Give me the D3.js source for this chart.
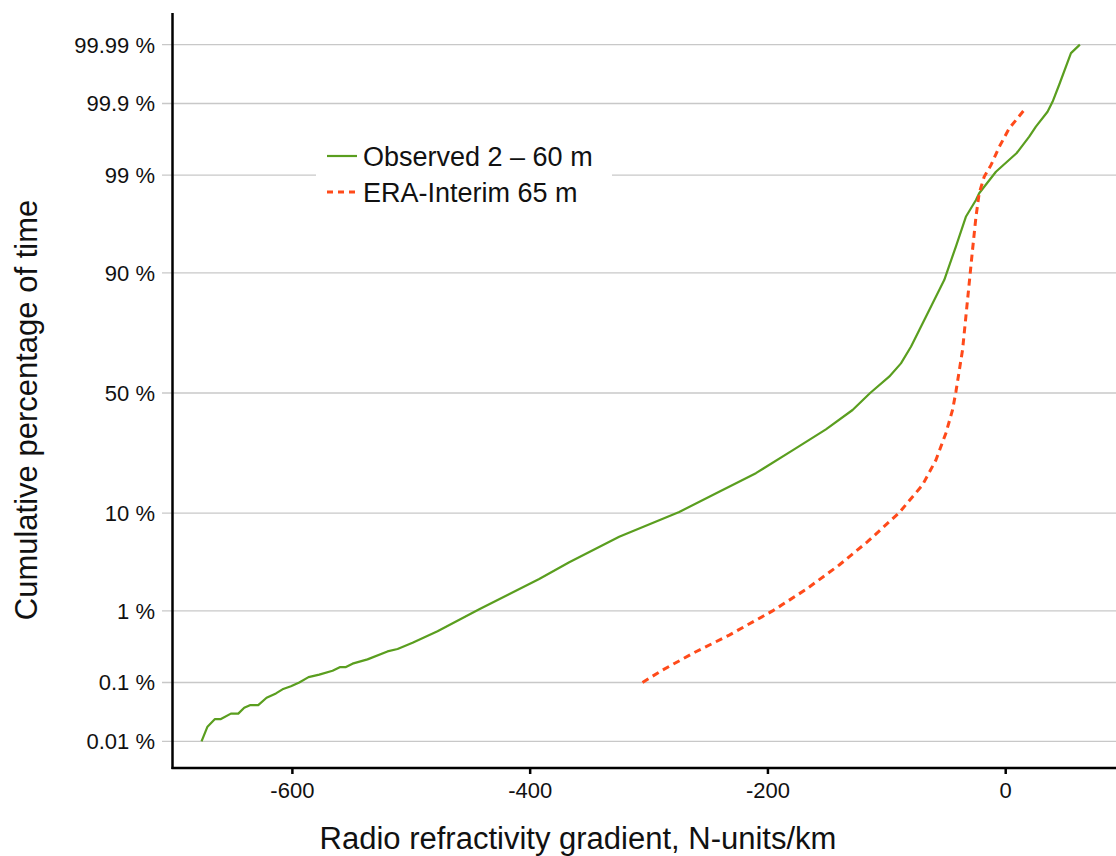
<!DOCTYPE html>
<html>
<head>
<meta charset="utf-8">
<script src="https://cdn.jsdelivr.net/npm/d3@7"></script>
<style>
  html, body { margin: 0; padding: 0; background: #fff; }
  svg { display: block; font-family: "Liberation Sans", Arial, sans-serif; }
</style>
</head>
<body>
<svg id="chart" width="1116" height="856"></svg>
<script>
// ---- data ----
const yTickPercents = [0.01, 0.1, 1, 10, 50, 90, 99, 99.9, 99.99];
const yTickLabels = ["0.01 %", "0.1 %", "1 %", "10 %", "50 %", "90 %", "99 %", "99.9 %", "99.99 %"];
const xTickValues = [-600, -400, -200, 0];

const observedGradient = [-676.0, -671.0, -664.7, -659.7, -651.3, -645.1, -640.1, -635.3, -628.3, -621.3,
  -613.4, -607.9, -600.8, -593.8, -586.0, -577.0, -565.8, -559.3, -554.5, -549.0,
  -536.4, -519.6, -511.1, -498.5, -477.5, -442.4, -392.0, -366.7, -324.7, -274.2,
  -240.6, -209.7, -178.9, -150.8, -128.4, -113.6, -97.6, -87.7, -79.3, -66.7,
  -51.3, -41.5, -33.1, -24.6, -21.9, -7.8, 3.4, 9.5, 20.2, 25.8,
  35.6, 39.8, 45.4, 55.3, 62.8];
const observedPercent = [0.01, 0.0184, 0.025, 0.025, 0.031, 0.031, 0.039, 0.043, 0.043, 0.057,
  0.067, 0.078, 0.087, 0.10, 0.121, 0.132, 0.151, 0.172, 0.172, 0.193,
  0.223, 0.29, 0.314, 0.384, 0.548, 1.05, 2.35, 3.54, 6.25, 10.2,
  14.6, 19.6, 27.0, 34.9, 42.8, 50.0, 56.9, 62.4, 68.9, 79.2,
  88.6, 94.1, 97.0, 98.03, 98.35, 99.09, 99.36, 99.475, 99.689, 99.777,
  99.866, 99.906, 99.950, 99.9857, 99.99];

const eraGradient = [-305.1, -288.3, -260.2, -232.1, -195.7, -167.6, -139.6, -115.8, -89.2, -69.6,
  -58.3, -49.9, -44.3, -41.5, -35.9, -33.1, -30.3, -27.5, -24.6, -21.9,
  -17.7, -12.0, -5.0, 3.4, 17.9];
const eraPercent = [0.1, 0.155, 0.287, 0.488, 1.0, 1.80, 3.32, 5.62, 10.06, 16.3,
  23.7, 33.4, 42.8, 50.4, 67.7, 79.2, 87.9, 93.66, 97.0, 98.35,
  98.95, 99.25, 99.57, 99.764, 99.886];

const seriesNames = ["Observed 2 \u2013 60 m", "ERA-Interim 65 m"];
const seriesColors = ["#5a9e1f", "#ff4a1a"];

// ---- inverse normal CDF (probability axis) ----
function probit(p) {
  const a = [-3.969683028665376e+01, 2.209460984245205e+02, -2.759285104469687e+02, 1.383577518672690e+02, -3.066479806614716e+01, 2.506628277459239e+00];
  const b = [-5.447609879822406e+01, 1.615858368580409e+02, -1.556989798598866e+02, 6.680131188771972e+01, -1.328068155288572e+01];
  const c = [-7.784894002430293e-03, -3.223964580411365e-01, -2.400758277161838e+00, -2.549732539343734e+00, 4.374664141464968e+00, 2.938163982698783e+00];
  const d = [7.784695709041462e-03, 3.224671290700398e-01, 2.445134137142996e+00, 3.754408661907416e+00];
  const pl = 0.02425, ph = 1 - pl;
  let q, r;
  if (p < pl) {
    q = Math.sqrt(-2 * Math.log(p));
    return (((((c[0]*q+c[1])*q+c[2])*q+c[3])*q+c[4])*q+c[5]) / ((((d[0]*q+d[1])*q+d[2])*q+d[3])*q+1);
  } else if (p <= ph) {
    q = p - 0.5; r = q * q;
    return (((((a[0]*r+a[1])*r+a[2])*r+a[3])*r+a[4])*r+a[5])*q / (((((b[0]*r+b[1])*r+b[2])*r+b[3])*r+b[4])*r+1);
  } else {
    q = Math.sqrt(-2 * Math.log(1 - p));
    return -(((((c[0]*q+c[1])*q+c[2])*q+c[3])*q+c[4])*q+c[5]) / ((((d[0]*q+d[1])*q+d[2])*q+d[3])*q+1);
  }
}
const z = pct => probit(pct / 100);

// ---- layout ----
const svg = d3.select("#chart");
const W = 1116;
const x = d3.scaleLinear().domain([-700, 100]).range([173, 1124.1]);
const y = d3.scaleLinear().domain([-4, 4.05]).range([767.7, 13.6]);
const axisX0 = 172.5, axisY0 = 768;

// gridlines
svg.append("g").selectAll("line").data(yTickPercents).join("line")
  .attr("x1", 162).attr("x2", W)
  .attr("y1", d => y(z(d))).attr("y2", d => y(z(d)))
  .attr("stroke", "#c8c8c8").attr("stroke-width", 1.3);

// y tick labels
svg.append("g").selectAll("text").data(yTickPercents).join("text")
  .attr("x", 155).attr("y", d => y(z(d)))
  .attr("dy", "0.36em").attr("text-anchor", "end")
  .attr("font-size", 22).attr("fill", "#111")
  .text((d, i) => yTickLabels[i]);

// x axis
const xAxis = d3.axisBottom(x).tickValues(xTickValues).tickSize(6).tickPadding(8)
  .tickFormat(d => d3.format("d")(d).replace("\u2212", "-"));
const gx = svg.append("g").attr("transform", `translate(0,${axisY0})`).call(xAxis);
gx.select(".domain").remove();
gx.selectAll(".tick line").attr("stroke", "#000").attr("stroke-width", 2.5);
gx.selectAll(".tick text").attr("font-size", 22).attr("fill", "#111")
  .attr("font-family", "Liberation Sans, Arial, sans-serif");

// axis lines
svg.append("line").attr("x1", axisX0).attr("x2", axisX0).attr("y1", 13).attr("y2", axisY0 + 1)
  .attr("stroke", "#000").attr("stroke-width", 2.5);
svg.append("line").attr("x1", axisX0 - 1).attr("x2", W).attr("y1", axisY0).attr("y2", axisY0)
  .attr("stroke", "#000").attr("stroke-width", 2.5);

// series
const line = d3.line().x(d => x(d[0])).y(d => y(z(d[1])));
const obs = observedGradient.map((g, i) => [g, observedPercent[i]]);
const era = eraGradient.map((g, i) => [g, eraPercent[i]]);

svg.append("path").datum(obs).attr("d", line)
  .attr("fill", "none").attr("stroke", seriesColors[0]).attr("stroke-width", 2.2)
  .attr("stroke-linejoin", "round");
svg.append("path").datum(era).attr("d", line)
  .attr("fill", "none").attr("stroke", seriesColors[1]).attr("stroke-width", 3)
  .attr("stroke-dasharray", "7,5");

// legend
const lg = svg.append("g");
lg.append("rect").attr("x", 316).attr("y", 136).attr("width", 296).attr("height", 78).attr("fill", "#fff");
[0, 1].forEach(i => {
  const ly = 156 + i * 36;
  lg.append("line").attr("x1", 327).attr("x2", 357).attr("y1", ly).attr("y2", ly)
    .attr("stroke", seriesColors[i]).attr("stroke-width", i ? 3 : 2.2)
    .attr("stroke-dasharray", i ? "6,5" : null);
  lg.append("text").attr("x", 363).attr("y", ly).attr("dy", "0.36em")
    .attr("font-size", 27).attr("fill", "#111").text(seriesNames[i]);
});

// axis titles
svg.append("text").attr("x", 578).attr("y", 849).attr("text-anchor", "middle")
  .attr("font-size", 31).attr("fill", "#111").text("Radio refractivity gradient, N-units/km");
svg.append("text").attr("transform", "translate(37,410) rotate(-90)").attr("text-anchor", "middle")
  .attr("font-size", 31).attr("fill", "#111").text("Cumulative percentage of time");
</script>
</body>
</html>
